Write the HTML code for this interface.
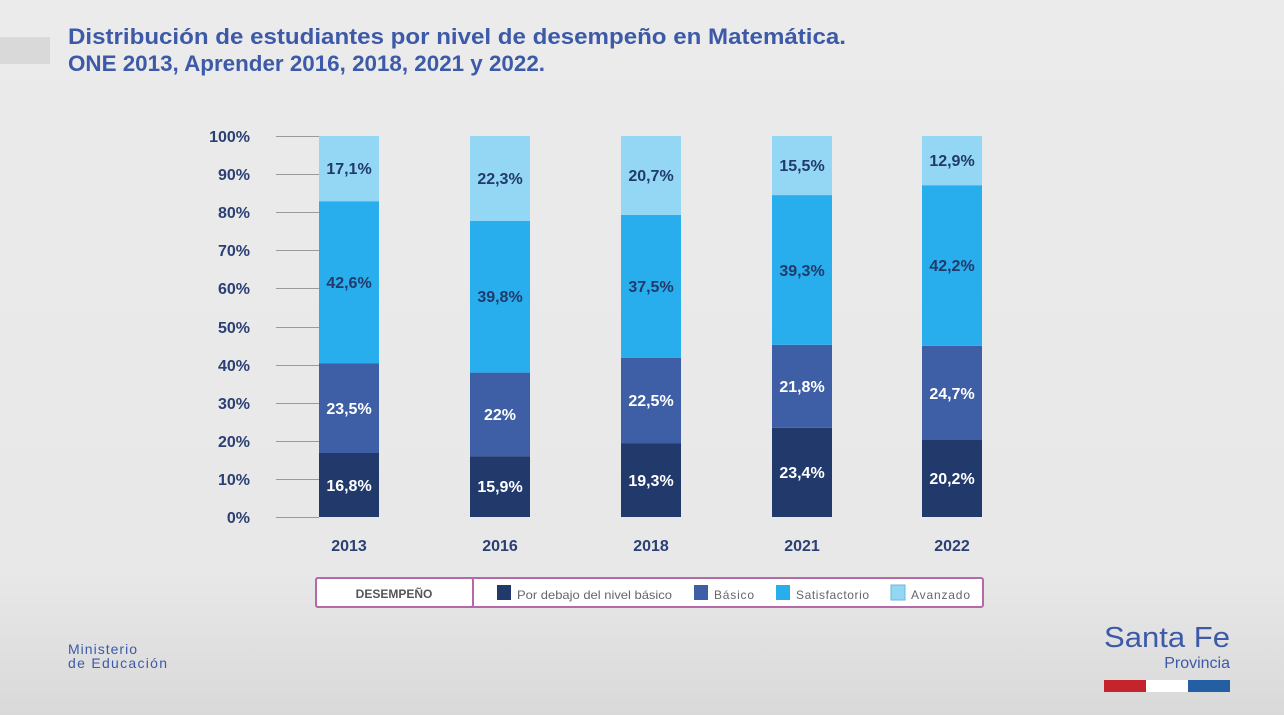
<!DOCTYPE html><html><head><meta charset="utf-8"><style>
body{margin:0;width:1284px;height:715px;overflow:hidden;background:linear-gradient(#ebebeb 0%,#e8e8e8 80%,#d9d9d9 100%);font-family:"Liberation Sans",sans-serif}
</style></head><body>
<svg width="1284" height="715" xmlns="http://www.w3.org/2000/svg" style="position:absolute;left:0;top:0">
<rect x="0" y="37" width="50" height="27" fill="#d9d9d9"/>
<g font-weight="bold" font-size="22" fill="#3d5aa8"><text x="68" y="44" textLength="778" lengthAdjust="spacingAndGlyphs">Distribución de estudiantes por nivel de desempeño en Matemática.</text><text x="68" y="71" textLength="477" lengthAdjust="spacingAndGlyphs">ONE 2013, Aprender 2016, 2018, 2021 y 2022.</text></g>
<g stroke="#9a9a9a" stroke-width="1"><line x1="276" x2="319" y1="136.5" y2="136.5"/><line x1="276" x2="319" y1="174.5" y2="174.5"/><line x1="276" x2="319" y1="212.5" y2="212.5"/><line x1="276" x2="319" y1="250.5" y2="250.5"/><line x1="276" x2="319" y1="288.5" y2="288.5"/><line x1="276" x2="319" y1="327.5" y2="327.5"/><line x1="276" x2="319" y1="365.5" y2="365.5"/><line x1="276" x2="319" y1="403.5" y2="403.5"/><line x1="276" x2="319" y1="441.5" y2="441.5"/><line x1="276" x2="319" y1="479.5" y2="479.5"/><line x1="276" x2="319" y1="517.5" y2="517.5"/></g>
<g font-weight="bold" font-size="16" fill="#2a3f73" text-anchor="end"><text x="250" y="142">100%</text><text x="250" y="180">90%</text><text x="250" y="218">80%</text><text x="250" y="256">70%</text><text x="250" y="294">60%</text><text x="250" y="333">50%</text><text x="250" y="371">40%</text><text x="250" y="409">30%</text><text x="250" y="447">20%</text><text x="250" y="485">10%</text><text x="250" y="523">0%</text></g>
<g>
<rect x="319" y="453" width="60" height="64" fill="#213a6b"/><rect x="319" y="363.5" width="60" height="89.5" fill="#3e5fa6"/><rect x="319" y="201.2" width="60" height="162.3" fill="#29aeed"/><rect x="319" y="136" width="60" height="65.2" fill="#93d7f5"/>
<rect x="470" y="456.4" width="60" height="60.6" fill="#213a6b"/><rect x="470" y="372.6" width="60" height="83.8" fill="#3e5fa6"/><rect x="470" y="221" width="60" height="151.6" fill="#29aeed"/><rect x="470" y="136" width="60" height="85" fill="#93d7f5"/>
<rect x="621" y="443.5" width="60" height="73.5" fill="#213a6b"/><rect x="621" y="357.7" width="60" height="85.8" fill="#3e5fa6"/><rect x="621" y="214.9" width="60" height="142.8" fill="#29aeed"/><rect x="621" y="136" width="60" height="78.9" fill="#93d7f5"/>
<rect x="772" y="427.8" width="60" height="89.2" fill="#213a6b"/><rect x="772" y="344.8" width="60" height="83" fill="#3e5fa6"/><rect x="772" y="195.1" width="60" height="149.7" fill="#29aeed"/><rect x="772" y="136" width="60" height="59.1" fill="#93d7f5"/>
<rect x="922" y="440" width="60" height="77" fill="#213a6b"/><rect x="922" y="345.9" width="60" height="94.1" fill="#3e5fa6"/><rect x="922" y="185.2" width="60" height="160.7" fill="#29aeed"/><rect x="922" y="136" width="60" height="49.2" fill="#93d7f5"/>
</g>
<g font-weight="bold" font-size="16" text-anchor="middle">
<g fill="#fff"><text x="349" y="491">16,8%</text><text x="349" y="414">23,5%</text><text x="500" y="492">15,9%</text><text x="500" y="420">22%</text><text x="651" y="486">19,3%</text><text x="651" y="406">22,5%</text><text x="802" y="478">23,4%</text><text x="802" y="392">21,8%</text><text x="952" y="484">20,2%</text><text x="952" y="399">24,7%</text></g>
<g fill="#213a6b"><text x="349" y="288">42,6%</text><text x="349" y="174">17,1%</text><text x="500" y="302">39,8%</text><text x="500" y="184">22,3%</text><text x="651" y="292">37,5%</text><text x="651" y="181">20,7%</text><text x="802" y="276">39,3%</text><text x="802" y="171">15,5%</text><text x="952" y="271">42,2%</text><text x="952" y="166">12,9%</text></g>
<g fill="#2a3f73"><text x="349" y="551">2013</text><text x="500" y="551">2016</text><text x="651" y="551">2018</text><text x="802" y="551">2021</text><text x="952" y="551">2022</text></g>
</g>
<rect x="316" y="578" width="667" height="29" rx="2" fill="#fff" stroke="#b46aaa" stroke-width="2"/>
<rect x="316" y="578" width="157" height="29" rx="2" fill="#fff" stroke="#b46aaa" stroke-width="2"/>
<text x="394" y="598" text-anchor="middle" font-size="12" font-weight="bold" fill="#555">DESEMPEÑO</text>
<g font-size="12" fill="#666">
<rect x="497" y="585" width="14" height="15" fill="#213a6b"/><text x="517" y="599" textLength="155" lengthAdjust="spacingAndGlyphs">Por debajo del nivel básico</text>
<rect x="694" y="585" width="14" height="15" fill="#3e5fa6"/><text x="714" y="599" textLength="40">Básico</text>
<rect x="776" y="585" width="14" height="15" fill="#29aeed"/><text x="796" y="599" textLength="73">Satisfactorio</text>
<rect x="891" y="585" width="14" height="15" fill="#93d7f5" stroke="#6bb8dd"/><text x="911" y="599" textLength="59">Avanzado</text>
</g>
<g font-size="14" fill="#3d5aa8"><text x="68" y="654" textLength="69">Ministerio</text><text x="68" y="668" textLength="99">de Educación</text></g>
<text x="1104" y="647" font-size="29" fill="#3d5aa8" textLength="126" lengthAdjust="spacingAndGlyphs">Santa Fe</text>
<text x="1230" y="668" text-anchor="end" font-size="16" fill="#3d5aa8">Provincia</text>
<rect x="1104" y="680" width="42" height="12" fill="#c4252c"/><rect x="1146" y="680" width="42" height="12" fill="#fff"/><rect x="1188" y="680" width="42" height="12" fill="#255fa3"/>
</svg>
</body></html>
